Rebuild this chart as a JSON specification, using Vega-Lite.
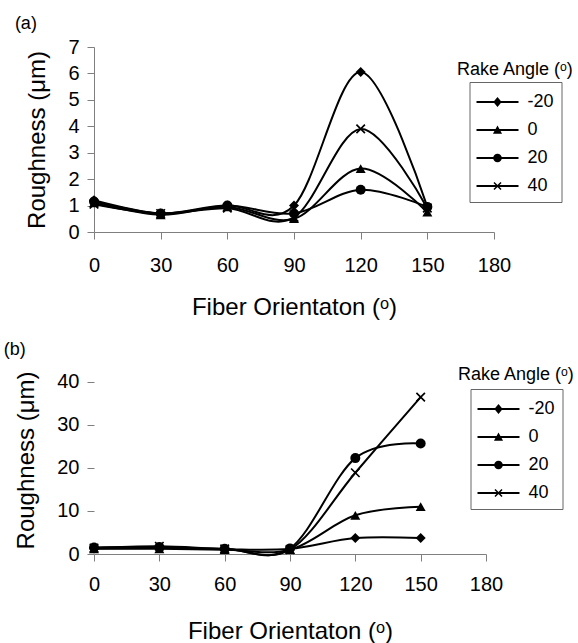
{
  "$schema": "https://vega.github.io/schema/vega-lite/v6.json",
  "padding": {"left": 3, "top": 15, "right": 0, "bottom": 0},
  "background": "white",
  "spacing": 22,
  "config": {
    "font": "Liberation Sans",
    "view": {"stroke": null},
    "axis": {
      "labelFont": "Liberation Sans", "labelFontSize": 20, "labelColor": "black",
      "titleFont": "Liberation Sans", "titleFontSize": 24, "titleFontWeight": "normal", "titleColor": "black",
      "domainColor": "#7f7f7f", "tickColor": "#7f7f7f", "tickSize": 7, "grid": false
    },
    "axisX": {"labelPadding": 16, "labelFlush": false},
    "axisY": {"labelPadding": 8, "titlePadding": 18},
    "legend": {"layout": {"right": {"anchor": "start", "direction": "vertical", "center": true, "margin": 3}}},
    "title": {"font": "Liberation Sans", "fontSize": 18, "fontWeight": "normal", "anchor": "start", "frame": "bounds", "color": "black"}
  },
  "resolve": {
    "scale": {"x": "independent", "y": "independent", "color": "independent", "shape": "independent"},
    "legend": {"color": "independent", "shape": "independent"}
  },
  "vconcat": [
    {
      "title": {"text": "(a)", "dx": -11},
      "width": 400,
      "height": 185,
      "data": {"values": [
        {"orientation": 0, "rake": -20, "roughness": 1.2},
        {"orientation": 30, "rake": -20, "roughness": 0.7},
        {"orientation": 60, "rake": -20, "roughness": 1.0},
        {"orientation": 90, "rake": -20, "roughness": 1.0},
        {"orientation": 120, "rake": -20, "roughness": 6.05},
        {"orientation": 150, "rake": -20, "roughness": 0.95},
        {"orientation": 0, "rake": 0, "roughness": 1.1},
        {"orientation": 30, "rake": 0, "roughness": 0.65},
        {"orientation": 60, "rake": 0, "roughness": 0.95},
        {"orientation": 90, "rake": 0, "roughness": 0.5},
        {"orientation": 120, "rake": 0, "roughness": 2.4},
        {"orientation": 150, "rake": 0, "roughness": 0.75},
        {"orientation": 0, "rake": 20, "roughness": 1.15},
        {"orientation": 30, "rake": 20, "roughness": 0.7},
        {"orientation": 60, "rake": 20, "roughness": 1.0},
        {"orientation": 90, "rake": 20, "roughness": 0.7},
        {"orientation": 120, "rake": 20, "roughness": 1.6},
        {"orientation": 150, "rake": 20, "roughness": 0.95},
        {"orientation": 0, "rake": 40, "roughness": 1.05},
        {"orientation": 30, "rake": 40, "roughness": 0.7},
        {"orientation": 60, "rake": 40, "roughness": 0.9},
        {"orientation": 90, "rake": 40, "roughness": 0.55},
        {"orientation": 120, "rake": 40, "roughness": 3.9},
        {"orientation": 150, "rake": 40, "roughness": 0.9}
      ]},
      "encoding": {
        "x": {"field": "orientation", "type": "quantitative", "scale": {"domain": [0, 180]}, "axis": {"values": [0, 30, 60, 90, 120, 150, 180], "title": "Fiber Orientaton (ᵒ)", "titlePadding": 20}},
        "y": {"field": "roughness", "type": "quantitative", "scale": {"domain": [0, 7]}, "axis": {"values": [0, 1, 2, 3, 4, 5, 6, 7], "title": "Roughness (μm)"}}
      },
      "resolve": {"scale": {"shape": "independent"}, "legend": {"shape": "independent"}},
      "layer": [
        {
          "mark": {"type": "line", "interpolate": "cardinal", "strokeWidth": 2},
          "encoding": {
            "detail": {"field": "rake", "type": "nominal"},
            "color": {"datum": "Rake Angle", "scale": {"range": ["black"]}, "legend": {
              "title": "Rake Angle (ᵒ)", "titleFontSize": 18, "titleFontWeight": "normal", "titleColor": "black",
              "titleOrient": "bottom", "titlePadding": 3, "labelExpr": "' '", "labelFontSize": 10, "labelOpacity": 0,
              "symbolOpacity": 0, "padding": 0, "offset": -37, "orient": "right"
            }}
          }
        },
        {
          "mark": {"type": "point", "filled": true, "opacity": 1, "size": 100, "color": "black"},
          "encoding": {
            "shape": {"field": "rake", "type": "nominal", "legend": null,
              "scale": {"domain": [-20, 0, 20, 40], "range": ["diamond", "triangle-up", "circle", "M-0.73,-0.97L0.97,0.73L0.73,0.97L-0.97,-0.73ZM0.97,-0.73L-0.73,0.97L-0.97,0.73L0.73,-0.97Z"]}
            }
          }
        },
        {
          "mark": {"type": "point", "filled": true, "opacity": 0, "size": 10, "color": "black"},
          "encoding": {
            "shape": {"field": "rake", "type": "nominal",
              "scale": {"domain": [-20, 0, 20, 40], "range": [
                "M-1.615,-0.073L1.615,-0.073L1.615,0.073L-1.615,0.073ZM0,-0.38L0.32,0L0,0.38L-0.32,0Z",
                "M-1.615,-0.073L1.615,-0.073L1.615,0.073L-1.615,0.073ZM0,-0.34L0.35,0.28L-0.35,0.28Z",
                "M-1.615,-0.073L1.615,-0.073L1.615,0.073L-1.615,0.073ZM-0.33,0A0.33,0.33,0,1,1,0.33,0A0.33,0.33,0,1,1,-0.33,0Z",
                "M-1.615,-0.073L1.615,-0.073L1.615,0.073L-1.615,0.073ZM-0.23,-0.31L0.31,0.23L0.23,0.31L-0.31,-0.23ZM0.31,-0.23L-0.23,0.31L-0.31,0.23L0.23,-0.31Z"
              ]},
              "legend": {
                "title": null, "orient": "right", "offset": -37, "padding": 7, "strokeColor": "#666666",
                "symbolSize": 676, "symbolOffset": 8, "labelFontSize": 18, "labelColor": "black", "labelOffset": 17, "rowPadding": 6,
                "symbolFillColor": "black", "symbolStrokeWidth": 0, "symbolOpacity": 1
              }
            }
          }
        }
      ]
    },
    {
      "title": {"text": "(b)", "dx": -11, "offset": 7},
      "width": 392,
      "height": 188,
      "data": {"values": [
        {"orientation": 0, "rake": -20, "roughness": 1.3},
        {"orientation": 30, "rake": -20, "roughness": 1.4},
        {"orientation": 60, "rake": -20, "roughness": 1.1},
        {"orientation": 90, "rake": -20, "roughness": 1.2},
        {"orientation": 120, "rake": -20, "roughness": 3.7},
        {"orientation": 150, "rake": -20, "roughness": 3.7},
        {"orientation": 0, "rake": 0, "roughness": 1.2},
        {"orientation": 30, "rake": 0, "roughness": 1.2},
        {"orientation": 60, "rake": 0, "roughness": 1.0},
        {"orientation": 90, "rake": 0, "roughness": 1.0},
        {"orientation": 120, "rake": 0, "roughness": 9.0},
        {"orientation": 150, "rake": 0, "roughness": 11.0},
        {"orientation": 0, "rake": 20, "roughness": 1.5},
        {"orientation": 30, "rake": 20, "roughness": 1.6},
        {"orientation": 60, "rake": 20, "roughness": 1.2},
        {"orientation": 90, "rake": 20, "roughness": 1.3},
        {"orientation": 120, "rake": 20, "roughness": 22.3},
        {"orientation": 150, "rake": 20, "roughness": 25.7},
        {"orientation": 0, "rake": 40, "roughness": 1.4},
        {"orientation": 30, "rake": 40, "roughness": 1.8},
        {"orientation": 60, "rake": 40, "roughness": 1.2},
        {"orientation": 90, "rake": 40, "roughness": 1.0},
        {"orientation": 120, "rake": 40, "roughness": 18.9},
        {"orientation": 150, "rake": 40, "roughness": 36.5}
      ]},
      "encoding": {
        "x": {"field": "orientation", "type": "quantitative", "scale": {"domain": [0, 180]}, "axis": {"values": [0, 30, 60, 90, 120, 150, 180], "title": "Fiber Orientaton (ᵒ)", "labelPadding": 13, "titlePadding": 25}},
        "y": {"field": "roughness", "type": "quantitative", "scale": {"domain": [0, 43.72], "nice": false}, "axis": {"values": [0, 10, 20, 30, 40], "title": "Roughness (μm)", "domain": false}}
      },
      "resolve": {"scale": {"shape": "independent"}, "legend": {"shape": "independent"}},
      "layer": [
        {
          "data": {"values": [{}]},
          "mark": {"type": "rule", "color": "#7f7f7f", "strokeWidth": 1},
          "encoding": {"x": {"datum": 0}, "y": {"datum": 0}, "y2": {"datum": 40}}
        },
        {
          "mark": {"type": "line", "interpolate": "cardinal", "strokeWidth": 2},
          "encoding": {
            "detail": {"field": "rake", "type": "nominal"},
            "color": {"datum": "Rake Angle", "scale": {"range": ["black"]}, "legend": {
              "title": "Rake Angle (ᵒ)", "titleFontSize": 18, "titleFontWeight": "normal", "titleColor": "black",
              "titleOrient": "top", "titlePadding": 0, "labelExpr": "' '", "labelFontSize": 1, "labelOpacity": 0,
              "symbolOpacity": 0, "symbolSize": 1, "padding": 0, "offset": -28, "orient": "right"
            }}
          }
        },
        {
          "mark": {"type": "point", "filled": true, "opacity": 1, "size": 100, "color": "black"},
          "encoding": {
            "shape": {"field": "rake", "type": "nominal", "legend": null,
              "scale": {"domain": [-20, 0, 20, 40], "range": ["diamond", "triangle-up", "circle", "M-0.73,-0.97L0.97,0.73L0.73,0.97L-0.97,-0.73ZM0.97,-0.73L-0.73,0.97L-0.97,0.73L0.73,-0.97Z"]}
            }
          }
        },
        {
          "mark": {"type": "point", "filled": true, "opacity": 0, "size": 10, "color": "black"},
          "encoding": {
            "shape": {"field": "rake", "type": "nominal",
              "scale": {"domain": [-20, 0, 20, 40], "range": [
                "M-1.615,-0.073L1.615,-0.073L1.615,0.073L-1.615,0.073ZM0,-0.38L0.32,0L0,0.38L-0.32,0Z",
                "M-1.615,-0.073L1.615,-0.073L1.615,0.073L-1.615,0.073ZM0,-0.34L0.35,0.28L-0.35,0.28Z",
                "M-1.615,-0.073L1.615,-0.073L1.615,0.073L-1.615,0.073ZM-0.33,0A0.33,0.33,0,1,1,0.33,0A0.33,0.33,0,1,1,-0.33,0Z",
                "M-1.615,-0.073L1.615,-0.073L1.615,0.073L-1.615,0.073ZM-0.23,-0.31L0.31,0.23L0.23,0.31L-0.31,-0.23ZM0.31,-0.23L-0.23,0.31L-0.31,0.23L0.23,-0.31Z"
              ]},
              "legend": {
                "title": null, "orient": "right", "offset": -28, "padding": 7, "strokeColor": "#666666",
                "symbolSize": 676, "symbolOffset": 8, "labelFontSize": 18, "labelColor": "black", "labelOffset": 17, "rowPadding": 6,
                "symbolFillColor": "black", "symbolStrokeWidth": 0, "symbolOpacity": 1
              }
            }
          }
        }
      ]
    }
  ]
}
